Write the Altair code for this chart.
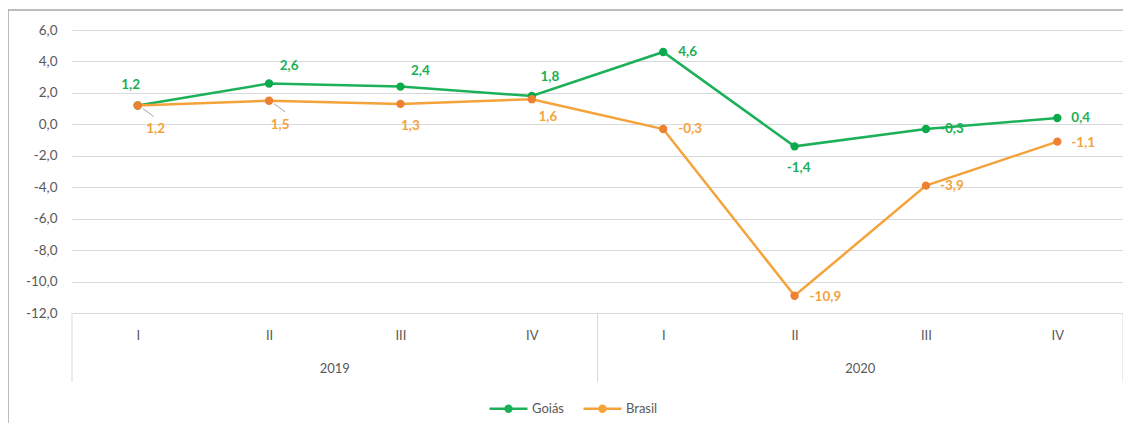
import altair as alt
import pandas as pd

# ---------------- data ----------------
quarters = ["I", "II", "III", "IV", "I", "II", "III", "IV"]
years = ["2019", "2019", "2019", "2019", "2020", "2020", "2020", "2020"]
goias = [1.2, 2.6, 2.4, 1.8, 4.6, -1.4, -0.3, 0.4]
brasil = [1.2, 1.5, 1.3, 1.6, -0.3, -10.9, -3.9, -1.1]
series_names = ["Goiás", "Brasil"]
y_ticks = [-12, -10, -8, -6, -4, -2, 0, 2, 4, 6]

# ---------------- style ----------------
FONT = "Lato"
GRAY_TXT = "#595959"
GRID = "#d9d9d9"
line_colors = ["#1cb159", "#f5a23a"]
point_colors = ["#0ca94d", "#ee8033"]
label_colors = ["#1aae55", "#f5a23a"]
# per-point label placement (dx, dy, align)
goias_lbl = [(-7, -20, "center"), (20, -17, "center"), (20, -16, "center"), (18, -19, "center"),
             (15, 0, "left"), (4, 22, "center"), (14, 0, "left"), (14, 0, "left")]
brasil_lbl = [(18, 24, "center"), (11, 24, "center"), (10, 22, "center"), (16, 18, "center"),
              (15, 0, "left"), (15, 1, "left"), (14, 0, "left"), (14, 1, "left")]
leader_points = {"Brasil": [0, 1]}

W, H = 1051, 283
NUM_FMT = "replace(replace(format({f}, '.1f'), '.', ','), '\u2212', '-')"

rows = []
for name, vals in zip(series_names, [goias, brasil]):
    for i, v in enumerate(vals):
        rows.append({"idx": i, "q": quarters[i], "year": years[i], "serie": name, "v": v})
df = pd.DataFrame(rows)

xs = alt.Scale(domain=[-0.5, len(quarters) - 0.5], nice=False, zero=False)
ys = alt.Scale(domain=[min(y_ticks), max(y_ticks)], nice=False, zero=False)
cs = alt.Scale(domain=series_names, range=line_colors)

x_axis = alt.Axis(values=list(range(len(quarters))),
                  labelExpr="[" + ",".join("'%s'" % q for q in quarters) + "][datum.value]",
                  grid=False, domain=False, ticks=False, labelPadding=16, labelOverlap=False,
                  labelFontSize=13, labelColor=GRAY_TXT, labelFont=FONT)
y_axis = alt.Axis(values=y_ticks, labelExpr=NUM_FMT.format(f="datum.value"),
                  grid=True, gridColor=GRID, gridWidth=1, domain=False, ticks=False,
                  labelOverlap=False, labelPadding=15, labelFontSize=13.5,
                  labelColor=GRAY_TXT, labelFont=FONT)


def X(field="idx:Q"):
    return alt.X(field, scale=xs, title=None, axis=x_axis)


def Y(field="v:Q"):
    return alt.Y(field, scale=ys, title=None, axis=y_axis)


base = alt.Chart(df)

# legend symbol: line with a (stroke-filled) dot in the middle
sym = ("M-1,0L1,0"
       "M-0.155,0A0.155,0.155,0,1,0,0.155,0A0.155,0.155,0,1,0,-0.155,0"
       "M-0.06,0A0.06,0.06,0,1,0,0.06,0A0.06,0.06,0,1,0,-0.06,0")
legend = alt.Legend(title=None, orient="none", direction="horizontal", legendX=416, legendY=358,
                    symbolType=sym, symbolSize=1444, symbolStrokeWidth=2.5, labelFontSize=13,
                    labelColor=GRAY_TXT, labelFont=FONT, columnPadding=14, labelOffset=3)

lines = base.mark_line(strokeWidth=2.5).encode(
    x=X(), y=Y(),
    color=alt.Color("serie:N", scale=cs, sort=series_names, legend=legend),
    detail="serie:N",
)
points = base.mark_point(filled=True, size=70, opacity=1).encode(
    x=X(), y=Y(),
    fill=alt.Fill("serie:N", scale=alt.Scale(domain=series_names, range=point_colors), legend=None),
)

layers = [lines, points]

# leader lines
for name, idxs in leader_points.items():
    for i in idxs:
        layers.append(
            base.transform_filter((alt.datum.serie == name) & (alt.datum.idx == i))
            .mark_rule(color="#a6a6a6", strokeWidth=1, xOffset=5, yOffset=3, x2Offset=16, y2Offset=11)
            .encode(x=X(), x2="idx:Q", y=Y(), y2="v:Q")
        )

# data labels
for name, styles, col in zip(series_names, [goias_lbl, brasil_lbl], label_colors):
    for i, (dx, dy, al) in enumerate(styles):
        layers.append(
            base.transform_filter((alt.datum.serie == name) & (alt.datum.idx == i))
            .transform_calculate(lbl=NUM_FMT.format(f="datum.v"))
            .mark_text(dx=dx, dy=dy, align=al, baseline="middle", font=FONT, fontSize=13.5,
                       fontWeight="bold", color=col)
            .encode(x=X(), y=Y(), text="lbl:N")
        )

# year labels (centered under their quarters)
layers.append(
    base.transform_aggregate(xm="mean(idx)", groupby=["year"])
    .mark_text(font=FONT, fontSize=13, color=GRAY_TXT, baseline="middle")
    .encode(x=X("xm:Q"), y=alt.value(H + 56), text="year:N")
)

# category separators (year boundaries)
layers.append(
    base.transform_aggregate(lo="min(idx)", hi="max(idx)", groupby=["year"])
    .transform_calculate(b0="datum.lo - 0.5", b1="datum.hi + 0.5")
    .transform_fold(["b0", "b1"], as_=["k", "bx"])
    .mark_rule(color=GRID, strokeWidth=1)
    .encode(x=X("bx:Q"), y=alt.value(H), y2=alt.value(H + 69))
)

# outer frame
frame = alt.Chart(pd.DataFrame({"a": [0]}))
layers.append(frame.mark_rule(color="#a6a6a6", strokeWidth=1.5).encode(
    x=alt.value(-64), x2=alt.value(W + 20), y=alt.value(-20)))
layers.append(frame.mark_rule(color="#a6a6a6", strokeWidth=1.5).encode(
    x=alt.value(-64), y=alt.value(-20), y2=alt.value(H + 120)))

chart = alt.layer(*layers).properties(
    width=W, height=H,
    autosize=alt.AutoSizeParams(type="none"),
    padding={"left": 64, "top": 22, "right": 0, "bottom": 110},
    background="white",
).configure_view(stroke=None).resolve_scale(fill="independent")

chart.save("out.html", embed_options={"renderer": "svg", "actions": False})
